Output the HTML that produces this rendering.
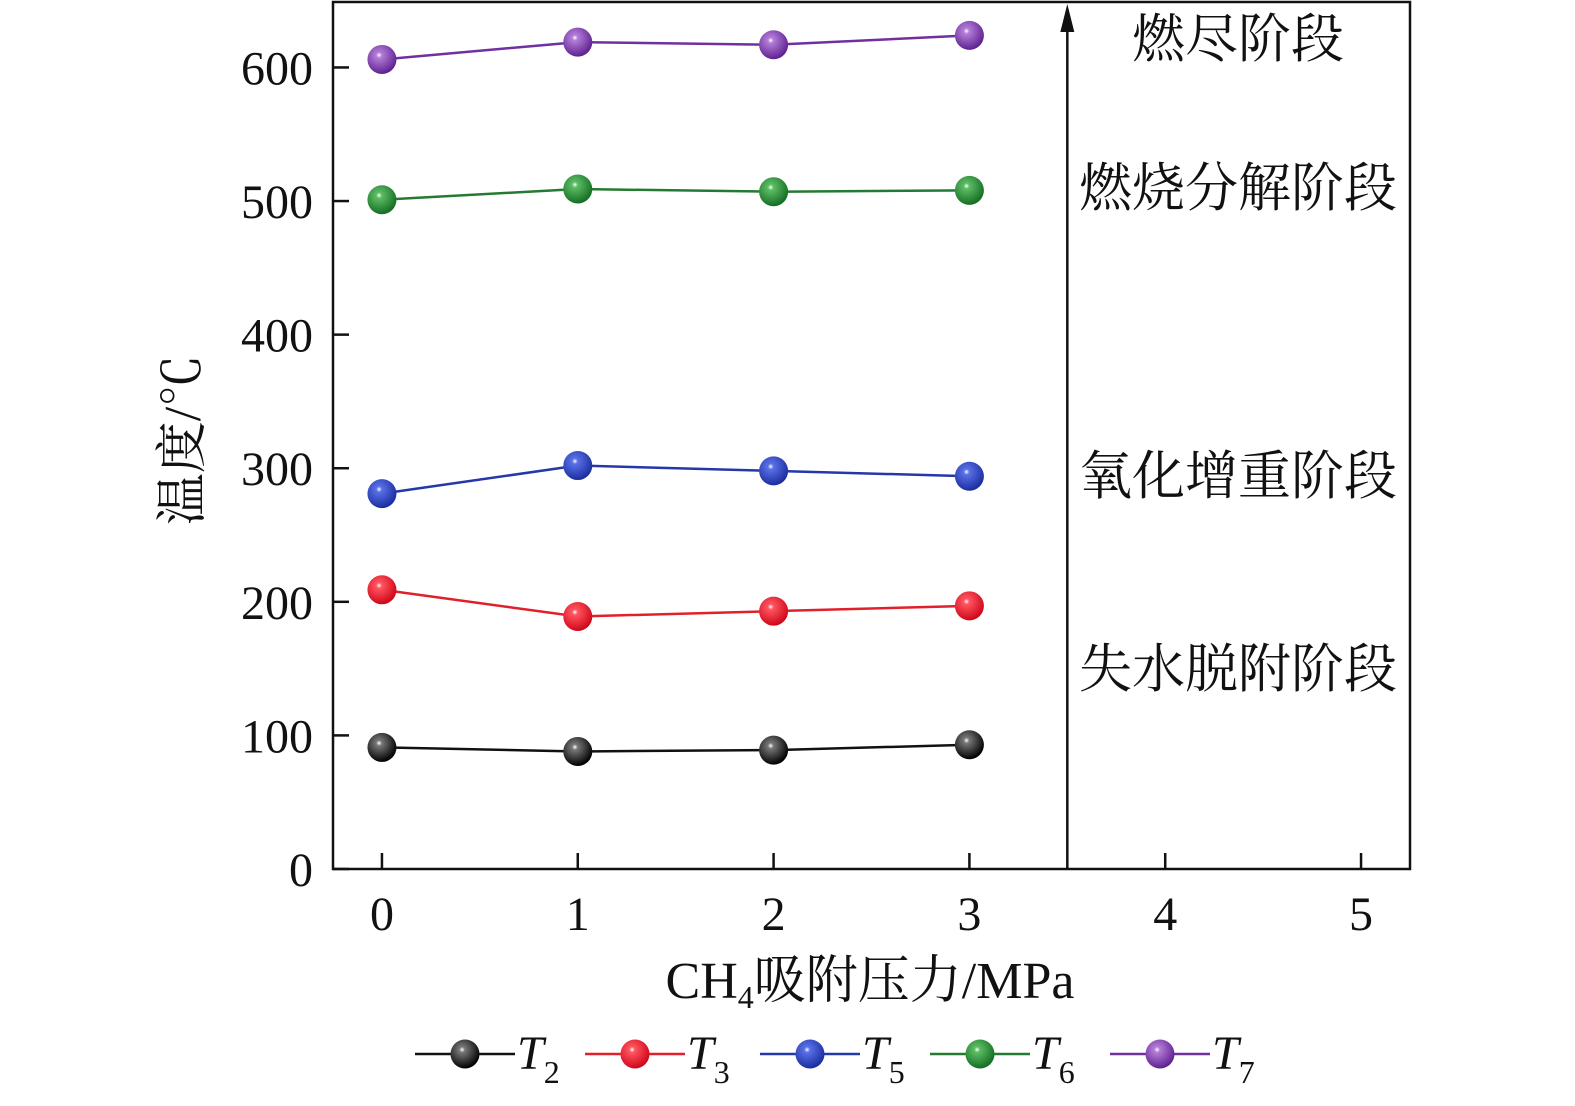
<!DOCTYPE html>
<html><head><meta charset="utf-8">
<style>
html,body{margin:0;padding:0;background:#fff;overflow:hidden;}
svg{display:block;}
svg text{font-family:"Liberation Serif","Noto Serif CJK SC",serif;fill:#111;}
</style></head>
<body>
<svg id="chart" width="1575" height="1106" xmlns="http://www.w3.org/2000/svg">
<defs>
<radialGradient id="g-black" cx="0.4" cy="0.35" r="0.65"><stop offset="0" stop-color="#fff"/><stop offset="0.15" stop-color="#777"/><stop offset="1" stop-color="#000"/></radialGradient>
<radialGradient id="g-red" cx="0.4" cy="0.35" r="0.65"><stop offset="0" stop-color="#fff"/><stop offset="0.15" stop-color="#ff5560"/><stop offset="1" stop-color="#d0061a"/></radialGradient>
<radialGradient id="g-blue" cx="0.4" cy="0.35" r="0.65"><stop offset="0" stop-color="#fff"/><stop offset="0.15" stop-color="#5a70e8"/><stop offset="1" stop-color="#1a2e9e"/></radialGradient>
<radialGradient id="g-green" cx="0.4" cy="0.35" r="0.65"><stop offset="0" stop-color="#fff"/><stop offset="0.15" stop-color="#5cbd64"/><stop offset="1" stop-color="#156e24"/></radialGradient>
<radialGradient id="g-purple" cx="0.4" cy="0.35" r="0.65"><stop offset="0" stop-color="#fff"/><stop offset="0.15" stop-color="#b47dd8"/><stop offset="1" stop-color="#5e2290"/></radialGradient>
</defs>
<g id="plot"></g>
</svg>
<script>
const xCats=[0,1,2,3];
const T2=[91,88,89,93];
const T3=[209,189,193,197];
const T5=[281,302,298,294];
const T6=[501,509,507,508];
const T7=[606,619,617,624];
const xTicks=[0,1,2,3,4,5];
const yTicks=[0,100,200,300,400,500,600];
const stageX=3.5;

const L=333,R=1410,T=2,B=869;
const xMin=-0.25,xMax=5.25,yMin=0,yMax=649;
const sx=v=>L+(v-xMin)/(xMax-xMin)*(R-L);
const sy=v=>B-(v-yMin)/(yMax-yMin)*(B-T);
const NS='http://www.w3.org/2000/svg';
const g=document.getElementById('plot');
function mk(tag,attrs,parent){const e=document.createElementNS(NS,tag);for(const k in attrs)e.setAttribute(k,attrs[k]);(parent||g).appendChild(e);return e;}

let fr=mk('rect',{x:L,y:T,width:R-L,height:B-T,fill:'none',stroke:'#111','stroke-width':2.5});



xTicks.forEach(v=>{
  let t=mk('line',{x1:sx(v),x2:sx(v),y1:B,y2:B-16,stroke:'#111','stroke-width':2.5});
  
  
  let l=mk('text',{x:sx(v),y:930,'text-anchor':'middle','font-size':48});
  l.textContent=v;
  
  
});
yTicks.forEach(v=>{
  let t=mk('line',{x1:L,x2:L+16,y1:sy(v),y2:sy(v),stroke:'#111','stroke-width':2.5});
  
  
  let l=mk('text',{x:313,y:sy(v)+17,'text-anchor':'end','font-size':48});
  l.textContent=v;
  
  
});

let ar=mk('line',{x1:sx(stageX),x2:sx(stageX),y1:B,y2:22,stroke:'#111','stroke-width':2.5});


let ah=mk('polygon',{points:`${sx(stageX)-7},32 ${sx(stageX)+7},32 ${sx(stageX)},4`,fill:'#111'});



const stages=[['燃尽阶段',1238,57],['燃烧分解阶段',1238,206],['氧化增重阶段',1238,494],['失水脱附阶段',1238,687]];
stages.forEach(s=>{
  let t=mk('text',{x:s[1],y:s[2],'text-anchor':'middle','font-size':53});
  t.textContent=s[0];
  
  
});

const series=[[T2,'#111','g-black','t2'],[T3,'#e0202a','g-red','t3'],[T5,'#2438a8','g-blue','t5'],[T6,'#237a30','g-green','t6'],[T7,'#7030a0','g-purple','t7']];
series.forEach(s=>{
  let p=mk('polyline',{points:xCats.map((c,i)=>sx(c)+','+sy(s[0][i])).join(' '),fill:'none',stroke:s[1],'stroke-width':2.5});
  
  
  xCats.forEach((c,i)=>{
    let m=mk('circle',{cx:sx(c),cy:sy(s[0][i]),r:14.5,fill:'url(#'+s[2]+')'});
    
    
  });
});

let yt=mk('text',{transform:'translate(200,440) rotate(-90)','text-anchor':'middle','font-size':52});
yt.textContent='温度/℃';


let xt=mk('text',{x:870,y:998,'text-anchor':'middle','font-size':52});
xt.innerHTML='CH<tspan font-size="32" dy="10">4</tspan><tspan dy="-10">吸附压力/MPa</tspan>';



const legX=[[415,'T','2'],[585,'T','3'],[760,'T','5'],[930,'T','6'],[1110,'T','7']];
legX.forEach((lg,i)=>{
  const s=series[i];
  const x0=lg[0];
  let gg=mk('g',{});
  
  
  mk('line',{x1:x0,x2:x0+100,y1:1054,y2:1054,stroke:s[1],'stroke-width':2.5},gg);
  mk('circle',{cx:x0+50,cy:1054,r:14.5,fill:'url(#'+s[2]+')'},gg);
  let t=mk('text',{x:x0+102,y:1069,'font-size':48,'font-style':'italic'},gg);
  t.innerHTML='T<tspan font-style="normal" font-size="32" dy="14">'+lg[2]+'</tspan>';
});
</script>
</body></html>
